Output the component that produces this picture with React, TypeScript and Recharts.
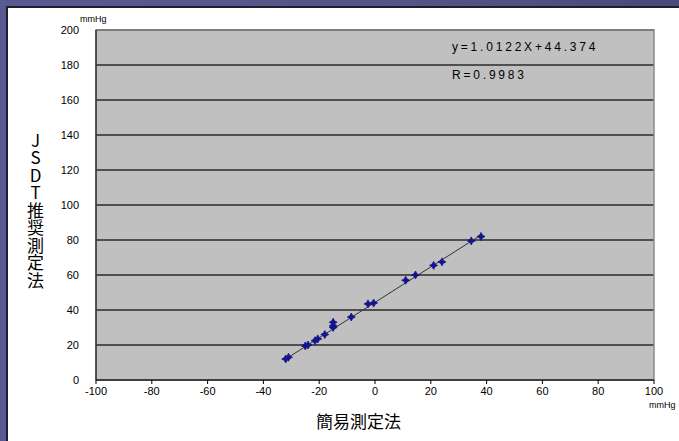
import React from "react";
import {
  ScatterChart,
  Scatter,
  XAxis,
  YAxis,
  CartesianGrid,
  ReferenceArea,
} from "recharts";

// 簡易測定法 (x) vs JSDT推奨測定法 (y), mmHg
const simpleMethod = [-32, -31, -25, -24, -21.5, -20.5, -18, -15, -15, -15, -8.5, -2.5, -0.5, 11, 14.5, 21, 24, 34.5, 38];
const jsdtMethod = [12, 13, 19.5, 20, 22.5, 23.5, 26, 30, 31, 33, 36, 43.5, 44, 57, 60, 65.5, 67.5, 79.5, 82];

// trendline ends (y = 1.0122x + 44.374)
const trendX = [-32, 38];
const trendY = [11.98, 82.84];

const xTicks = [-100, -80, -60, -40, -20, 0, 20, 40, 60, 80, 100];
const yTicks = [0, 20, 40, 60, 80, 100, 120, 140, 160, 180, 200];

const points = simpleMethod.map((x, i) => ({ x, y: jsdtMethod[i] }));
const trend = trendX.map((x, i) => ({ x, y: trendY[i] }));

const tickFont = { fontFamily: "Liberation Sans, Arial, sans-serif", fontSize: 11, fill: "#000" };

// small 4-point star marker like the Excel one
const Marker = (props: any) => {
  const { cx, cy } = props;
  if (cx == null || cy == null) return <g />;
  const r = 4;
  const k = 1.4;
  const d = `M${cx},${cy - r} L${cx + k},${cy - k} L${cx + r},${cy} L${cx + k},${cy + k} L${cx},${cy + r} L${cx - k},${cy + k} L${cx - r},${cy} L${cx - k},${cy - k} Z`;
  return <path d={d} fill="#14148c" stroke="#14148c" strokeWidth={0.8} />;
};

const smallText = { fontSize: 9, fontFamily: "Liberation Sans, Arial, sans-serif" };
const eqText = { fontSize: 12, letterSpacing: 2.8, fontFamily: "Liberation Sans, Arial, sans-serif" };

export default function App() {
  return (
    <div
      style={{
        position: "absolute",
        left: 0,
        top: 0,
        width: 679,
        height: 441,
        overflow: "hidden",
        background: "linear-gradient(90deg, #5a5a92 0%, #545488 60%, #4a4a78 100%)",
      }}
    >
      <div
        style={{
          position: "absolute",
          left: 6,
          top: 6,
          right: 0,
          bottom: 0,
          background: "#fff",
          borderLeft: "2px solid #1e1e2e",
          borderTop: "2px solid #1e1e2e",
        }}
      />
      <div style={{ position: "absolute", left: 0, top: 0 }}>
        <ScatterChart width={679} height={441} margin={{ top: 30, right: 25, bottom: 0, left: 0 }}>
          <CartesianGrid
            horizontal
            vertical={false}
            fill="#c0c0c0"
            stroke="#2a2a2a"
            strokeWidth={1.3}
          />
          <ReferenceArea
            x1={-100}
            x2={100}
            y1={0}
            y2={200}
            fill="none"
            stroke="#8a8a8a"
            strokeWidth={1.5}
            ifOverflow="visible"
          />
          <XAxis
            type="number"
            dataKey="x"
            domain={[-100, 100]}
            ticks={xTicks}
            interval={0}
            height={61}
            tick={tickFont}
            tickSize={4}
            tickMargin={3}
            axisLine={{ stroke: "#000" }}
            tickLine={{ stroke: "#000" }}
          />
          <YAxis
            type="number"
            dataKey="y"
            domain={[0, 200]}
            ticks={yTicks}
            interval={0}
            width={96}
            tick={tickFont}
            tickSize={0}
            tickMargin={17}
            axisLine={{ stroke: "#000" }}
            tickLine={false}
          />
          <Scatter
            data={trend}
            line={{ stroke: "#333", strokeWidth: 1 }}
            shape={() => <g />}
            isAnimationActive={false}
          />
          <Scatter data={points} shape={Marker} isAnimationActive={false} />
        </ScatterChart>
      </div>

      <div style={{ ...smallText, position: "absolute", left: 80, top: 14 }}>mmHg</div>
      <div style={{ ...smallText, position: "absolute", left: 649, top: 400 }}>mmHg</div>
      <div style={{ ...eqText, position: "absolute", left: 452, top: 40 }}>y=1.0122X+44.374</div>
      <div style={{ ...eqText, position: "absolute", left: 452, top: 68 }}>R=0.9983</div>
      <div
        style={{
          position: "absolute",
          left: 316,
          top: 411,
          fontSize: 17,
          fontFamily: "'Noto Sans CJK JP', sans-serif",
          lineHeight: "20px",
        }}
      >
        簡易測定法
      </div>
      <div
        style={{
          position: "absolute",
          left: 25,
          top: 132,
          fontSize: 17,
          writingMode: "vertical-rl",
          textOrientation: "upright",
          fontFamily: "'Noto Sans CJK JP', sans-serif",
          lineHeight: "20px",
          letterSpacing: 0.5,
        }}
      >
        JSDT推奨測定法
      </div>
    </div>
  );
}
